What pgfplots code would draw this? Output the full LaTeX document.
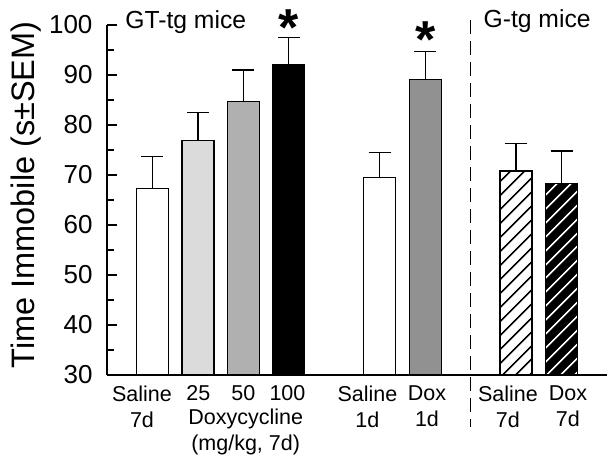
\documentclass[border=0pt]{standalone}
\usepackage{fontspec}
\setmainfont{Liberation Sans}
\usepackage{pgfplots}
\pgfplotsset{compat=1.18}
\usetikzlibrary{patterns.meta}

\definecolor{lightbar}{gray}{0.86}
\definecolor{midbar}{gray}{0.69}
\definecolor{doxbar}{gray}{0.57}

\pgfplotsset{
  bar/.style={draw=black, line width=1.3pt, bar shift=0pt,
    error bars/y dir=plus, error bars/y explicit,
    error bars/error bar style={line width=1.3pt, black},
    error bars/error mark options={rotate=90, mark size=11pt, line width=1.3pt, black}},
}

\begin{document}
\begin{tikzpicture}
\begin{axis}[
  name=ax,
  scale only axis,
  width=500pt, height=350pt,
  xmin=0, xmax=11, ymin=30, ymax=100,
  axis x line*=bottom, axis y line*=left,
  axis line style={line width=1.3pt, black},
  ytick={30,40,...,100},
  minor y tick num=1,
  tick align=inside,
  major tick length=10pt, minor tick length=7pt,
  ytick style={black, line width=1.3pt},
  % label centres, not bar centres
  xtick={0.77,2.01,3.0,3.97,5.73,7.04,8.82,10.14},
  xticklabels={Saline\\7d, 25, 50, 100, Saline\\1d, Dox\\1d, Saline\\7d, Dox\\7d},
  xtick style={draw=none},
  xticklabel style={align=center, font=\fontsize{21.5}{26}\selectfont, anchor=north, yshift=3pt},
  yticklabel style={font=\fontsize{26}{30}\selectfont, xshift=-11pt},
  /pgf/number format/assume math mode=true,
  ylabel={Time Immobile (s±SEM)},
  every axis y label/.style={at={(rel axis cs:0,0.5)}, rotate=90, anchor=base,
    yshift=72pt, xshift=5pt, font=\fontsize{32.5}{36}\selectfont},
  clip mode=individual,
  ybar, bar width=32pt,
]
% GT-tg mice, doxycycline 7d
\addplot[fill=white, bar] coordinates {(1,67.3) +- (0,6.4) (6,69.5) +- (0,5.0)};
\addplot[fill=lightbar, bar] coordinates {(2,76.9) +- (0,5.6)};
\addplot[fill=midbar, bar] coordinates {(3,84.7) +- (0,6.3)};
\addplot[fill=black, bar] coordinates {(4,92.0) +- (0,5.5)};
% dox 1d
\addplot[fill=doxbar, bar] coordinates {(7,89.1) +- (0,5.6)};
% G-tg mice
\addplot[bar, pattern={Lines[angle=45, distance=10.5pt, line width=1.8pt]}, pattern color=black]
  coordinates {(9,70.8) +- (0,5.5)};
\addplot[fill=black, draw=black, line width=1.3pt, bar shift=0pt] coordinates {(10,68.3)};
\addplot[bar, pattern={Lines[angle=45, distance=10.5pt, line width=1.8pt]}, pattern color=white]
  coordinates {(10,68.3) +- (0,6.5)};

\draw[line width=1.3pt, dash pattern=on 14pt off 7pt] (axis cs:8,101) -- (axis cs:8,19.6);
\node[anchor=base west, font=\fontsize{24.7}{28}\selectfont, inner sep=0pt] at (axis cs:0.4,99.4) {GT-tg mice};
\node[anchor=base west, font=\fontsize{24.7}{28}\selectfont, inner sep=0pt] at (axis cs:8.28,99.6) {G-tg mice};
\node[anchor=north, font=\fontsize{21.5}{26}\selectfont, align=center, inner sep=0pt] at (axis cs:3.05,23.3) {Doxycycline\\(mg/kg, 7d)};
\node[anchor=base, font=\fontsize{52}{55}\selectfont\bfseries, inner sep=0pt] at (axis cs:4,96.0) {*};
\node[anchor=base, font=\fontsize{52}{55}\selectfont\bfseries, inner sep=0pt] at (axis cs:7,93.6) {*};
\end{axis}
\pgfresetboundingbox
\path (ax.south west) ++(-107pt,-84pt) rectangle ++(614pt,459pt);
\end{tikzpicture}
\end{document}
